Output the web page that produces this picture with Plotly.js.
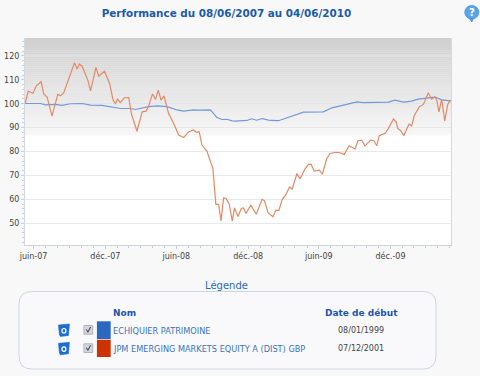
<!DOCTYPE html>
<html><head><meta charset="utf-8">
<script src="https://cdn.plot.ly/plotly-3.0.1.min.js"></script>
<style>html,body{margin:0;padding:0;background:#f8f8f8}#c{width:480px;height:376px}</style>
</head><body><div id="c"></div>
<script>
var startDate = Date.UTC(2007, 5, 8);
var endDate = Date.UTC(2010, 5, 4);
var titleText = 'Performance du 08/06/2007 au 04/06/2010';
var seriesNames = ['ECHIQUIER PATRIMOINE', 'JPM EMERGING MARKETS EQUITY A (DIST) GBP'];
var seriesStarts = ['08/01/1999', '07/12/2001'];
var tickDates = ['2007-06-30', '2007-12-31', '2008-06-30', '2008-12-31', '2009-06-30', '2009-12-31'];
var tickLabels = ['juin-07', 'déc.-07', 'juin-08', 'déc.-08', 'juin-09', 'déc.-09'];
var minorDates = ['2007-07-31','2007-08-31','2007-09-30','2007-10-31','2007-11-30','2008-01-31','2008-02-29','2008-03-31','2008-04-30','2008-05-31','2008-07-31','2008-08-31','2008-09-30','2008-10-31','2008-11-30','2009-01-31','2009-02-28','2009-03-31','2009-04-30','2009-05-31','2009-07-31','2009-08-31','2009-09-30','2009-10-31','2009-11-30','2010-01-31','2010-02-28','2010-03-31','2010-04-30','2010-05-31'];

// weeks elapsed since the start date, and the base-100 value
var blueWeeks = [0,5.7,7.5,11.2,13.6,16.6,21,24,28.2,32.5,35,38.6,40.4,45.3,48.3,52,55.7,58,61.7,63.6,67.9,70.3,72.1,74,75.8,77,81.3,82.9,84.9,86.8,89.8,92.8,98.3,102,109.3,112.4,117.8,121.5,123.9,133.1,135.5,138.6,141.6,144,150.1,152.6,155.6,156];
var blueValues = [100.1,100.1,99.5,99.7,99.3,100,100.1,99.4,99.3,98.3,98,98,97.6,98.8,99.1,98.8,97.4,96.9,97.4,97.3,97.4,94.2,93.4,93.5,92.8,92.7,93,93.7,93.1,93.8,93,92.9,95.1,96.5,96.6,98.3,99.7,100.8,100.5,100.7,101.5,100.7,101.1,101.9,102.8,101.6,101.2,101.2];
var orangeWeeks = [0,1.2,2.9,4.1,5.9,6.9,8.1,9.9,12,13,14.2,16,18.1,19.1,19.9,20.9,23,24,26,27,29.1,30.9,32.3,33.1,33.9,34.9,36.4,38,39,41,42.9,44.3,45.1,46.7,47.8,48.8,49.8,50.9,52.6,54.4,55.7,56.3,58.1,59.9,61.7,62.7,63.8,64.8,66.6,67.9,68.8,69.9,70.9,71.8,72.7,73.6,74.8,75.9,76.7,78,79.2,80,80.9,82.7,84.7,86.8,87.7,89,90.8,91.9,93,94.1,95.6,96.9,97.8,99.6,100.7,102.6,103.8,104.8,105.9,107.8,108.9,110.5,111.7,113.9,115.4,116.9,118.7,120.9,121.9,123.3,124.5,126.6,127.8,128.8,129.7,131.9,133.1,134.9,135.9,136.5,137.6,138.7,140.6,141.6,142.6,144.4,145.9,147.7,148.9,150.1,150.8,151.6,152.6,153.7,154.8,155.6,156];
var orangeValues = [100,105.3,104.3,107.4,109.2,104,102.8,94.8,103.9,103.3,104.6,110.6,117.1,114.5,116.6,115.7,109.9,105.4,115.2,111.5,113.6,108.7,101.5,100.1,101.9,100.5,102.5,102.6,95.6,88.5,96.6,96.9,98.5,104.1,101.8,105.7,101.5,103.3,95.9,91.8,88.2,86.9,85.9,88.2,89,88.1,88.2,82.7,80.2,75.3,72.9,57.9,57.9,51,60.6,60.4,58,50.9,56.4,52.8,56.2,56.4,54.1,57.6,53.8,60,59.4,54.4,52.7,55.5,55.4,59.7,62.2,65.2,64.3,70.8,68.5,72.9,74.6,74.6,71.8,72.2,70.5,77.1,79.2,79.7,79.5,78.8,82.4,81.1,84.5,84.8,82.4,84.8,84.5,82.4,86.6,87.6,89.7,93.6,92.4,89.7,88.7,86.6,91.5,90.8,95.2,98.7,99.7,104.6,101.9,102.9,101.5,96.6,101.9,92.8,99.7,101.2,101.2];

function toDates(weeks){ return weeks.map(function(w){ return startDate + w * 7 * 864e5; }); }

var L = 24.5, R = 451, T = 38, B = 245;
function px(x){ return (x - L) / (R - L); }
function py(y){ return (B - y) / (B - T); }
function rect(x0, y0, x1, y1, fill, line, layer){
  return {type:'rect', xref:'paper', yref:'paper', x0:px(x0), x1:px(x1), y0:py(y1), y1:py(y0),
    fillcolor:fill, line:{color:line||fill, width:line?1:0}, layer:layer||'above'};
}
function pathOf(pts, close){
  return pts.map(function(p, i){ return (i ? 'L' : 'M') + px(p[0]) + ',' + py(p[1]); }).join(' ') + (close ? ' Z' : '');
}
function rounded(x0, y0, x1, y1, r){
  var P = function(x, y){ return px(x) + ',' + py(y); };
  return 'M' + P(x0 + r, y0) + ' L' + P(x1 - r, y0) + ' Q' + P(x1, y0) + ' ' + P(x1, y0 + r) +
    ' L' + P(x1, y1 - r) + ' Q' + P(x1, y1) + ' ' + P(x1 - r, y1) +
    ' L' + P(x0 + r, y1) + ' Q' + P(x0, y1) + ' ' + P(x0, y1 - r) +
    ' L' + P(x0, y0 + r) + ' Q' + P(x0, y0) + ' ' + P(x0 + r, y0) + ' Z';
}
function note(text, x, y, size, color, anchor, bold){
  return {xref:'paper', yref:'paper', x:px(x), y:py(y), text:bold ? '<b>' + text + '</b>' : text,
    showarrow:false, xanchor:anchor, yanchor:'middle',
    font:{family:'"DejaVu Sans", Verdana, sans-serif', size:size, color:color}};
}

var shapes = [];
// gradient of the plot background
var bandTop = 38, bandBottom = 135, bands = 48;
for (var i = 0; i < bands; i++) {
  var c = Math.round(208 + (247 - 208) * i / (bands - 1));
  var col = 'rgb(' + c + ',' + c + ',' + c + ')';
  var h = (bandBottom - bandTop) / bands;
  shapes.push(rect(L, bandTop + i * h, R, bandTop + (i + 1) * h + 0.3, col, null, 'below'));
}
// legend frame
shapes.push({type:'path', xref:'paper', yref:'paper', path:rounded(18.5, 291.5, 436, 369, 13),
  fillcolor:'#f9f9fb', line:{color:'#ccd5e7', width:1}, layer:'below'});
// swatches
shapes.push(rect(96.5, 321.3, 110.3, 339, '#2d68c0'));
shapes.push(rect(96.5, 339.7, 110.3, 357, '#cc3300'));
// checkboxes and bin icons
[330, 348.3].forEach(function(cy){
  shapes.push(rect(83.5, cy - 4.5, 92.3, cy + 4.2, '#d6d6d6', '#b4b4b4'));
  shapes.push({type:'path', xref:'paper', yref:'paper', layer:'above', line:{color:'#35507f', width:1.1},
    path:pathOf([[85.8, cy - 0.5], [87.5, cy + 2], [90.2, cy - 3]])});
  shapes.push({type:'path', xref:'paper', yref:'paper', layer:'above', fillcolor:'#1c6fd0', line:{color:'#1660b8', width:0.5},
    path:pathOf([[58, cy - 5], [69, cy - 6], [68, cy + 5.5], [60, cy + 6.5], [59, cy + 5]], true)});
  shapes.push({type:'circle', xref:'paper', yref:'paper', layer:'above', fillcolor:'rgba(0,0,0,0)', line:{color:'#ffffff', width:1.2},
    x0:px(61.5), x1:px(65.5), y0:py(cy + 3), y1:py(cy - 1.5)});
});
// help icon
shapes.push({type:'path', xref:'paper', yref:'paper', layer:'above', fillcolor:'#5aa5e8', line:{color:'#3f8edb', width:0.6},
  path:pathOf([[468, 17], [472, 22], [474, 17]], true)});
shapes.push({type:'circle', xref:'paper', yref:'paper', layer:'above', fillcolor:'#5aa5e8', line:{color:'#3f8edb', width:0.8},
  x0:px(464.8), x1:px(478.8), y0:py(19), y1:py(5.5)});

var annotations = [
  note('Légende', 226.5, 285, 10, '#2a6ab0', 'center'),
  note('Nom', 111, 312.5, 9, '#1a55ad', 'left', true),
  note('Date de début', 361, 312.5, 9, '#1a55ad', 'center', true),
  note(seriesNames[0], 111, 330.5, 8.2, '#3f72b8', 'left'),
  note(seriesNames[1], 111, 348.5, 8.2, '#3f72b8', 'left'),
  note(seriesStarts[0], 361, 330.5, 8, '#444444', 'center'),
  note(seriesStarts[1], 361, 348.5, 8, '#444444', 'center'),
  note('?', 471.8, 12.2, 10, '#ffffff', 'center', true)
];

var data = [
  {x:toDates(blueWeeks), y:blueValues, type:'scatter', mode:'lines', name:seriesNames[0],
   line:{color:'#7299d8', width:1.2}, showlegend:false, hoverinfo:'skip'},
  {x:toDates(orangeWeeks), y:orangeValues, type:'scatter', mode:'lines', name:seriesNames[1],
   line:{color:'#e38a64', width:1.2}, showlegend:false, hoverinfo:'skip'}
];

var tickFont = {family:'"DejaVu Sans", Verdana, sans-serif', size:8, color:'#444444'};
var layout = {
  width:480, height:376,
  margin:{l:L, r:480 - R, t:T, b:376 - B, pad:0},
  paper_bgcolor:'#f8f8f8', plot_bgcolor:'#ffffff',
  title:{text:'<b>' + titleText + '</b>', x:226.5 / 480, xanchor:'center', y:1 - 13.5 / 376, yanchor:'middle',
    font:{family:'"DejaVu Sans", Verdana, sans-serif', size:10.4, color:'#1a5aa8'}},
  xaxis:{type:'date', range:[startDate, endDate], tickmode:'array', tickvals:tickDates, ticktext:tickLabels,
    ticks:'outside', ticklen:3, tickcolor:'#c8cdd8', tickwidth:1, tickfont:tickFont, showgrid:false, zeroline:false,
    showline:true, linecolor:'#ccd2de', linewidth:1,
    minor:{tickmode:'array', tickvals:minorDates, ticks:'outside', ticklen:2, tickcolor:'#c8cdd8', showgrid:false}},
  yaxis:{range:[40.9, 127.5], tickmode:'array', tickvals:[50,60,70,80,90,100,110,120],
    ticks:'outside', ticklen:3, tickcolor:'#c8cdd8', tickwidth:1, tickfont:tickFont,
    showgrid:true, gridcolor:'rgba(225,225,228,0.75)', gridwidth:1.5, zeroline:false,
    showline:true, linecolor:'#d4d8e2', linewidth:1, mirror:true,
    minor:{tickmode:'linear', tick0:42, dtick:2, ticks:'outside', ticklen:2, tickcolor:'#c8cdd8', showgrid:false}},
  shapes:shapes, annotations:annotations, showlegend:false
};
Plotly.newPlot('c', data, layout, {displayModeBar:false, staticPlot:true});
</script>
</body></html>
